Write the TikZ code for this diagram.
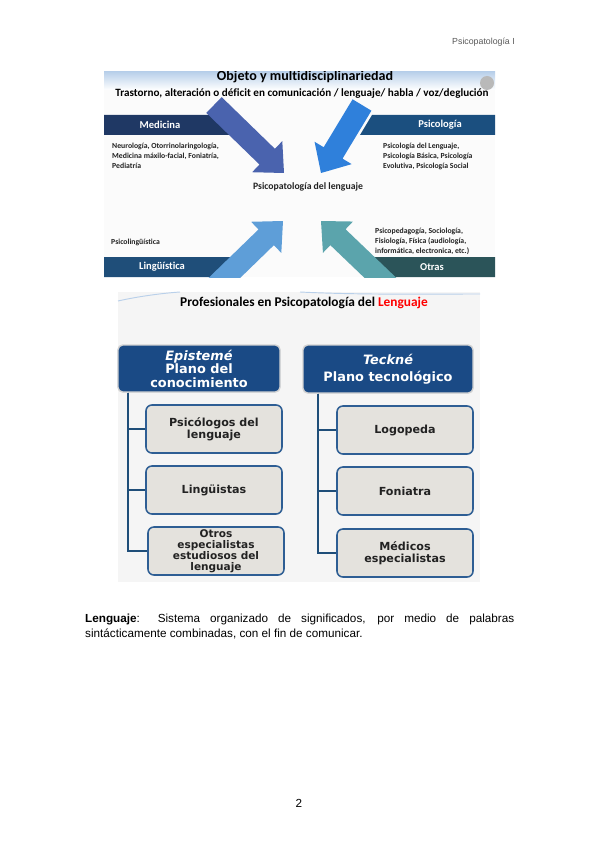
\documentclass[tikz,border=0pt]{standalone}
\usepackage{fontspec}
\setmainfont{Liberation Sans}
\newfontfamily\calibri[Ligatures=NoCommon]{Carlito}
\newfontfamily\verdana{DejaVu Sans}
\usepackage{tikz}
\usetikzlibrary{positioning, calc}
\definecolor{navyMed}{HTML}{1F3864}
\definecolor{navyPsi}{HTML}{1B4F7F}
\definecolor{navyLin}{HTML}{1F4E79}
\definecolor{tealOtr}{HTML}{2B5459}
\definecolor{arrMed}{HTML}{4A63AE}
\definecolor{arrPsi}{HTML}{2F80DB}
\definecolor{arrLin}{HTML}{5E9ED8}
\definecolor{arrOtr}{HTML}{5BA4AC}
\definecolor{boxNavy}{HTML}{1A4A85}
\definecolor{boxLine}{HTML}{2E5E94}
\definecolor{boxFill}{HTML}{E4E2DD}
\definecolor{bandBlue}{HTML}{B9D0EA}
\definecolor{textDark}{HTML}{222222}
\tikzset{
  barlabel/.style={text=white, font=\calibri\bfseries\fontsize{9}{10}\selectfont, inner sep=0pt},
  sidetext/.style={text=textDark, align=left, anchor=north west, inner sep=0pt,
                   font=\calibri\bfseries\fontsize{6.6}{8.5}\selectfont},
  planbox/.style={rectangle, draw=gray!35, fill=boxNavy, line width=1.2pt,
                  rounded corners=4pt, align=center, text=white,
                  font=\verdana\bfseries\fontsize{11}{11.5}\selectfont},
  profbox/.style={rectangle, draw=boxLine, fill=boxFill, line width=1.3pt,
                  rounded corners=5pt, align=center, text=textDark,
                  minimum width=4.08cm, minimum height=1.44cm, inner sep=1pt,
                  font=\verdana\bfseries\fontsize{9.5}{10}\selectfont},
  treeline/.style={draw=navyLin, line width=1.5pt},
}
\newcommand\blockarrow[3]{% color, tail, tip
  \coordinate (hb) at ($(#3)!20pt!(#2)$);
  \fill[#1] ($(#2)!9.4pt!90:(#3)$) -- ($(hb)!9.4pt!90:(#3)$)
    -- ($(hb)!18.5pt!90:(#3)$) -- (#3) -- ($(hb)!18.5pt!-90:(#3)$)
    -- ($(hb)!9.4pt!-90:(#3)$) -- ($(#2)!9.4pt!-90:(#3)$) -- cycle;
}
\begin{document}
\begin{tikzpicture}[x=0.03cm, y=-0.03cm]
  \useasboundingbox[fill=white] (0,0) rectangle (599,848);

  % page header
  \node[anchor=east, inner sep=0pt, text=gray!70!black, font=\fontsize{7.5}{9}\selectfont] (head) at (515,42) {Psicopatología I};

  % ---- first figure: objeto y multidisciplinariedad ----
  \begin{scope}
    \clip (104,72) rectangle (495,277);
    \fill[white!97!gray] (104,72) rectangle (495,277);
    \shade[top color=bandBlue, bottom color=white] (104,72) rectangle (495,90);
    \fill[gray!55] (487,83) circle (7);
    \node[anchor=base, font=\calibri\bfseries\fontsize{12}{14}\selectfont] (title1) at (305,81) {Objeto y multidisciplinariedad};
    \node[font=\calibri\bfseries\fontsize{9.5}{11}\selectfont] (sub1) at (302,94)
      {Trastorno, alteración o déficit en comunicación / lenguaje/ habla / voz/deglución};

    % bars
    \fill[navyMed] (104,115) -- (216,115) -- (236,135) -- (104,135) -- cycle;
    \fill[navyPsi] (372,115) -- (495,115) -- (495,135) -- (360,135) -- cycle;
    \fill[navyLin] (104,257) -- (234,257) -- (213,277) -- (104,277) -- cycle;
    \fill[tealOtr] (372,257) -- (495,257) -- (495,277) -- (392,277) -- cycle;

    % arrows
    \coordinate (medT) at (214,105);
    \coordinate (medP) at (284,173);
    \coordinate (psiT) at (362,105);
    \coordinate (psiP) at (321,173);
    \coordinate (linT) at (214,288);
    \coordinate (linP) at (283,221);
    \coordinate (otrT) at (391,288);
    \coordinate (otrP) at (321,221);
    \blockarrow{arrMed}{medT}{medP}
    \blockarrow{arrPsi}{psiT}{psiP}
    \blockarrow{arrLin}{linT}{linP}
    \blockarrow{arrOtr}{otrT}{otrP}
  \end{scope}

  \node[barlabel] (med) at (160,125) {Medicina};
  \node[barlabel] (psi) at (440,125) {Psicología};
  \node[barlabel] (lin) at (162,267) {Lingüística};
  \node[barlabel] (otr) at (432,267) {Otras};

  \node[sidetext] (medtx) at (112,143) {Neurología, Otorrinolaringología,\\Medicina máxilo-facial, Foniatría,\\Pediatría};
  \node[sidetext] (psitx) at (383,143) {Psicología del Lenguaje,\\Psicología Básica, Psicología\\Evolutiva, Psicología Social};
  \node[sidetext] (lintx) at (111,239) {Psicolingüística};
  \node[sidetext] (otrtx) at (375,228) {Psicopedagogía, Sociología,\\Fisiología, Física (audiología,\\informática, electronica, etc.)};

  \node[font=\calibri\bfseries\fontsize{8.3}{10}\selectfont, text=textDark] (psicolen) at (308,187) {Psicopatología del lenguaje};

  % ---- second figure: profesionales ----
  \fill[gray!8] (118,292) rectangle (480,582);
  \draw[bandBlue, line width=0.8pt] (118,301) .. controls (140,296) and (165,293) .. (180,292);
  \draw[bandBlue, line width=0.8pt] (300,292) .. controls (360,295) and (430,294) .. (480,294);
  \node[font=\calibri\bfseries\fontsize{11.4}{13}\selectfont] (title2) at (304,303)
    {Profesionales en Psicopatología del \textcolor{red}{Lenguaje}};

  \node[planbox, minimum width=4.86cm, minimum height=1.41cm, inner sep=1pt] (epi) at (199,368.5)
    {\textit{Epistemé}\\Plano del\\conocimiento};
  \node[planbox, minimum width=5.1cm, minimum height=1.44cm] (tec) at (388,369)
    {\textit{Teckné}\\[3pt]Plano tecnológico};

  \node[profbox] (psil) at (214,429) {Psicólogos del\\lenguaje};
  \node[profbox] (ling) at (214,490) {Lingüistas};
  \node[profbox, font=\verdana\bfseries\fontsize{9}{9.4}\selectfont] (otro) at (216,551) {Otros\\especialistas\\estudiosos del\\lenguaje};
  \node[profbox] (logo) at (405,430) {Logopeda};
  \node[profbox] (foni) at (405,491) {Foniatra};
  \node[profbox] (medi) at (405,553) {Médicos\\especialistas};

  \coordinate (trunkL) at ($(epi.south west)+(11,0)$);
  \coordinate (trunkR) at ($(tec.south west)+(16,0)$);
  \foreach \c in {psil,ling,otro} \draw[treeline] (trunkL) |- (\c.west);
  \foreach \c in {logo,foni,medi} \draw[treeline] (trunkR) |- (\c.west);

  % definition text
  \node[anchor=north west, inner sep=0pt, text width=12.87cm, align=justify,
        font=\fontsize{10}{12.8}\selectfont] (defi) at (85,614)
    {\hyphenpenalty=10000\exhyphenpenalty=10000
     \textbf{Lenguaje}: Sistema organizado de significados, por medio de palabras sintácticamente combinadas, con el fin de comunicar.\par};

  \node[font=\fontsize{10}{12}\selectfont] (pagenum) at (299,803) {2};
\end{tikzpicture}
\end{document}
